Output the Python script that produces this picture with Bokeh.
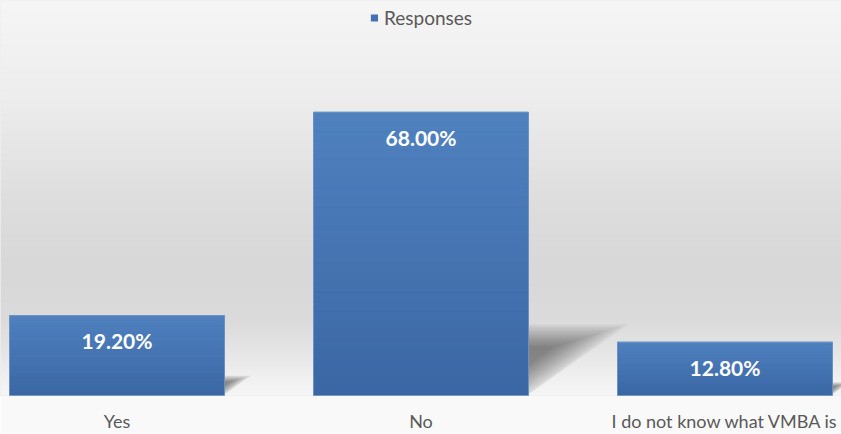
import numpy as np
from bokeh.plotting import figure
from bokeh.models import Range1d, FixedTicker, Legend, LegendItem
from bokeh.core.properties import value
from bokeh.embed import file_html
from bokeh.resources import INLINE

# ---- data ----
categories = ["Yes", "No", "I do not know what VMBA is"]
responses = [19.20, 68.00, 12.80]
value_labels = ["19.20%", "68.00%", "12.80%"]
series_name = "Responses"

# ---- layout / style ----
W, H = 841, 434
FONT = "Lato"
x = list(range(len(categories)))
bar_width = 0.707
x_start, x_end = -0.3832, 2.3832
y_end = 94.83
frame_px = 396

p = figure(width=W, height=H,
           x_range=Range1d(x_start, x_end), y_range=Range1d(0, y_end),
           output_backend="svg", toolbar_location=None, y_axis_location=None,
           min_border_left=0, min_border_right=0, min_border_top=0, min_border_bottom=38,
           border_fill_color="#f9f9f9", background_fill_color="#e0e0e0",
           outline_line_color=None)
p.grid.visible = False

# background vertical gradient
stops_px = [0, 100, 200, 270, 320, 350, 377, 396]
stops_g = [246, 237, 222, 216, 219, 229, 240, 246]
rows = np.arange(frame_px)
pix_from_top = frame_px - rows - 0.5
g = np.interp(pix_from_top, stops_px, stops_g).astype(np.uint32)
col = (255 << 24) | (g << 16) | (g << 8) | g
img = np.repeat(col.reshape(-1, 1), 4, axis=1).astype(np.uint32)
p.image_rgba(image=[img], x=x_start, y=0, dw=x_end - x_start, dh=y_end)

# soft perspective shadows
half = bar_width / 2
for s in np.linspace(1.12, 0.3, 12):
    xs, ys = [], []
    for xi, v in zip(x, responses):
        xr = xi + half - 0.005
        hs = 0.24 * v
        ws = 0.0044 * v
        ay = 0.6 * hs
        pts = [(xr, 0), (xr, hs), (xr + ws, hs)]
        xs.append([xr + s * (px - xr) for px, _ in pts])
        ys.append([max(0.0, ay + s * (py - ay)) for _, py in pts])
    p.patches(xs, ys, fill_color="black", fill_alpha=0.045, line_color=None)

# main bars
bars = p.vbar(x=x, top=responses, width=bar_width, fill_color="#4372b1", line_color=None)

# vertical gradient overlay inside bars
N = 30
top_c = np.array([0x50, 0x81, 0xbf])
bot_c = np.array([0x3b, 0x67, 0xa4])
for k in range(N):
    f0, f1 = k / N, (k + 1) / N
    c = bot_c + (top_c - bot_c) * ((f0 + f1) / 2)
    hexc = "#%02x%02x%02x" % tuple(int(round(t)) for t in c)
    p.vbar(x=x, bottom=[v * f0 for v in responses], top=[v * f1 for v in responses],
           width=bar_width, fill_color=hexc, line_color=hexc, line_width=0.6)

# outline
p.vbar(x=x, top=responses, width=bar_width, fill_alpha=0, line_color="#6b93c6", line_width=1)

# value labels
p.text(x=x, y=responses, text=value_labels, y_offset=25,
       text_align="center", text_baseline="middle", text_color="white",
       text_font=value(FONT), text_font_style="bold", text_font_size="21px")

# axis
ax = p.xaxis[0]
ax.ticker = FixedTicker(ticks=x)
ax.major_label_overrides = {i: c for i, c in zip(x, categories)}
ax.axis_line_color = None
ax.major_tick_line_color = None
ax.minor_tick_line_color = None
ax.major_tick_out = 0
ax.major_tick_in = 0
ax.minor_tick_out = 0
ax.major_label_standoff = 14
ax.major_label_text_line_height = 1.0
ax.major_label_text_font = FONT
ax.major_label_text_font_size = "18px"
ax.major_label_text_color = "#595959"

legend = Legend(items=[LegendItem(label=series_name, renderers=[bars])],
                location="top_center", orientation="horizontal",
                border_line_color=None, background_fill_alpha=0,
                label_text_font=FONT, label_text_font_size="19px", label_text_color="#595959",
                glyph_width=9, glyph_height=9, label_standoff=6, padding=8, margin=6,
                label_height=20)
p.add_layout(legend)

open("out.html", "w").write(file_html(p, INLINE))
